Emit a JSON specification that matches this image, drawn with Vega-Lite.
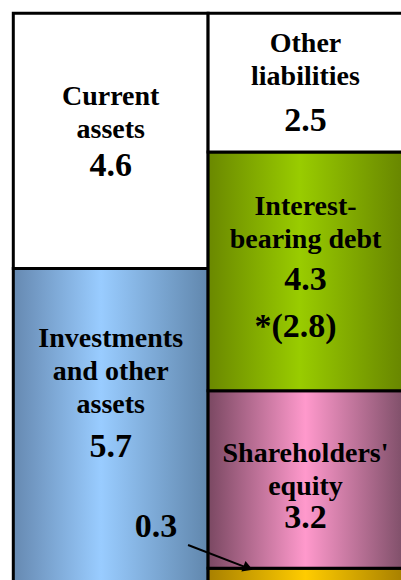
{
  "$schema": "https://vega.github.io/schema/vega-lite/v6.json",
  "autosize": "none",
  "width": 387.7,
  "height": 566.7,
  "padding": {"left": 13.3, "top": 13.3, "right": 0, "bottom": 0},
  "background": "white",
  "config": {"view": {"stroke": null}},
  "datasets": {
    "bs": [
      {"column": "Assets", "item": "Investments and other assets", "name": "Investments\nand other\nassets", "value": 5.7, "order": 1, "nameY": 4.29, "valueY": 2.31},
      {"column": "Assets", "item": "Current assets", "name": "Current\nassets", "value": 4.6, "order": 2, "nameY": 8.65, "valueY": 7.37},
      {"column": "Liabilities", "item": "Other", "name": null, "value": 0.3, "order": 1, "nameY": null, "valueY": null},
      {"column": "Liabilities", "item": "Shareholders' equity", "name": "Shareholders'\nequity", "value": 3.2, "order": 2, "nameY": 2.21, "valueY": 1.02},
      {"column": "Liabilities", "item": "Interest-bearing debt", "name": "Interest-\nbearing debt", "value": 4.3, "order": 3, "nameY": 6.67, "valueY": 5.32},
      {"column": "Liabilities", "item": "Other liabilities", "name": "Other\nliabilities", "value": 2.5, "order": 4, "nameY": 9.6, "valueY": 8.18}
    ],
    "notes": [
      {"text": "0.3", "x": 0.733, "y": 0.86},
      {"text": "*(2.8)", "x": 1.449, "y": 4.47}
    ],
    "arrow": [
      {"x": 0.897, "y": 0.72, "x2": 1.205, "y2": 0.305}
    ]
  },
  "resolve": {"scale": {"x": "independent"}, "axis": {"x": "independent"}},
  "layer": [
    {
      "data": {"name": "bs"},
      "mark": {"type": "bar", "stroke": "black", "strokeWidth": 3},
      "encoding": {
        "x": {"field": "column", "type": "nominal", "axis": null,
              "scale": {"domain": ["Assets", "Liabilities"], "range": [0, 389.6], "paddingInner": 0, "paddingOuter": 0}},
        "y": {"field": "value", "type": "quantitative", "stack": "zero", "axis": null,
              "scale": {"domain": [0.09, 10.3], "zero": false, "nice": false}},
        "order": {"field": "order", "type": "quantitative"},
        "fill": {
          "condition": [
            {"test": "datum.item === 'Investments and other assets'", "value": {"gradient": "linear", "x1": 0, "y1": 0, "x2": 1, "y2": 0, "stops": [{"offset": 0, "color": "#6689b1"}, {"offset": 0.45, "color": "#99ccff"}, {"offset": 1, "color": "#6187ad"}]}},
            {"test": "datum.item === 'Interest-bearing debt'", "value": {"gradient": "linear", "x1": 0, "y1": 0, "x2": 1, "y2": 0, "stops": [{"offset": 0, "color": "#6a8800"}, {"offset": 0.47, "color": "#99cc00"}, {"offset": 1, "color": "#688600"}]}},
            {"test": "datum.item === \"Shareholders' equity\"", "value": {"gradient": "linear", "x1": 0, "y1": 0, "x2": 1, "y2": 0, "stops": [{"offset": 0, "color": "#7a4862"}, {"offset": 0.5, "color": "#ff99cc"}, {"offset": 1, "color": "#80506a"}]}},
            {"test": "datum.item === 'Other'", "value": {"gradient": "linear", "x1": 0, "y1": 0, "x2": 1, "y2": 0, "stops": [{"offset": 0, "color": "#a88000"}, {"offset": 0.5, "color": "#ffcc00"}, {"offset": 1, "color": "#a88000"}]}}
          ],
          "value": "white"
        }
      }
    },
    {
      "data": {"name": "bs"},
      "transform": [{"filter": "datum.name != null"}],
      "mark": {"type": "text", "lineBreak": "\n", "lineHeight": 33, "baseline": "alphabetic", "align": "center", "font": "Liberation Serif", "fontWeight": "bold", "fontSize": 28, "color": "black"},
      "encoding": {
        "x": {"field": "column", "type": "nominal", "axis": null,
              "scale": {"domain": ["Assets", "Liabilities"], "range": [0, 389.6], "paddingInner": 0, "paddingOuter": 0}},
        "y": {"field": "nameY", "type": "quantitative", "stack": null},
        "text": {"field": "name"}
      }
    },
    {
      "data": {"name": "bs"},
      "transform": [{"filter": "datum.valueY != null"}],
      "mark": {"type": "text", "baseline": "alphabetic", "align": "center", "font": "Liberation Serif", "fontWeight": "bold", "fontSize": 34, "color": "black"},
      "encoding": {
        "x": {"field": "column", "type": "nominal", "axis": null,
              "scale": {"domain": ["Assets", "Liabilities"], "range": [0, 389.6], "paddingInner": 0, "paddingOuter": 0}},
        "y": {"field": "valueY", "type": "quantitative", "stack": null},
        "text": {"field": "value", "type": "quantitative", "format": ".1f"}
      }
    },
    {
      "data": {"name": "notes"},
      "mark": {"type": "text", "baseline": "alphabetic", "align": "center", "font": "Liberation Serif", "fontWeight": "bold", "fontSize": 34, "color": "black"},
      "encoding": {
        "x": {"field": "x", "type": "quantitative", "axis": null, "scale": {"domain": [0, 2], "range": [0, 389.6], "nice": false}},
        "y": {"field": "y", "type": "quantitative"},
        "text": {"field": "text"}
      }
    },
    {
      "data": {"name": "arrow"},
      "mark": {"type": "rule", "color": "black", "strokeWidth": 2},
      "encoding": {
        "x": {"field": "x", "type": "quantitative", "axis": null, "scale": {"domain": [0, 2], "range": [0, 389.6], "nice": false}},
        "y": {"field": "y", "type": "quantitative"},
        "x2": {"field": "x2"},
        "y2": {"field": "y2"}
      }
    },
    {
      "data": {"name": "arrow"},
      "mark": {"type": "point", "shape": "triangle-right", "filled": true, "color": "black", "opacity": 1, "size": 130, "angle": 21},
      "encoding": {
        "x": {"field": "x2", "type": "quantitative", "axis": null, "scale": {"domain": [0, 2], "range": [0, 389.6], "nice": false}},
        "y": {"field": "y2", "type": "quantitative"}
      }
    }
  ]
}
